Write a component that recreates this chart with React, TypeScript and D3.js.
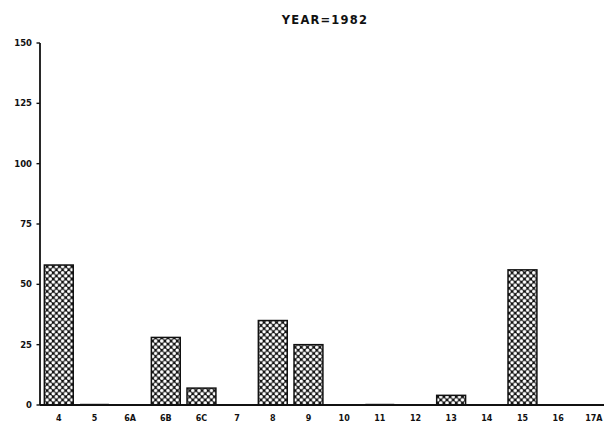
import { useMemo } from "react";
import * as d3 from "d3";

const categories = ["4", "5", "6A", "6B", "6C", "7", "8", "9", "10", "11", "12", "13", "14", "15", "16", "17A"];
const values = [58, 0.5, 0, 28, 7, 0, 35, 25, 0, 0.5, 0, 4, 0, 56, 0, 0];
const yTicks = [0, 25, 50, 75, 100, 125, 150];
const title = "YEAR=1982";

const W = 604;
const H = 428;
const margin = { left: 40, top: 43, bottom: 23 };
const bandStep = 35.6;

export default function App() {
  const x = useMemo(
    () =>
      d3
        .scaleBand()
        .domain(categories)
        .range([margin.left + 1.5, margin.left + 1.5 + bandStep * categories.length])
        .paddingInner(0.19)
        .paddingOuter(0.08),
    [],
  );
  const y = useMemo(() => d3.scaleLinear().domain([0, 150]).range([H - margin.bottom, margin.top]), []);

  const font = "'DejaVu Sans', 'Liberation Sans', sans-serif";

  return (
    <svg
      width={W}
      height={H}
      style={{ position: "absolute", left: 0, top: 0, background: "#fff" }}
      fontFamily={font}
    >
      <defs>
        <pattern id="xhatch" width={6.2} height={6.2} patternUnits="userSpaceOnUse" x={44} y={0}>
          <rect width={6.2} height={6.2} fill="#111" />
          <circle cx={0} cy={0} r={1.8} fill="#fff" />
          <circle cx={6.2} cy={0} r={1.8} fill="#fff" />
          <circle cx={0} cy={6.2} r={1.8} fill="#fff" />
          <circle cx={6.2} cy={6.2} r={1.8} fill="#fff" />
          <circle cx={3.1} cy={3.1} r={1.8} fill="#fff" />
        </pattern>
      </defs>

      <text
        x={325}
        y={24}
        textAnchor="middle"
        fontSize={11.5}
        fontWeight="bold"
        letterSpacing={1.2}
        fill="#111"
      >
        {title}
      </text>

      {/* y axis */}
      <line x1={margin.left} x2={margin.left} y1={y(150)} y2={y(0)} stroke="#111" strokeWidth={1.8} />
      {yTicks.map((t) => (
        <g key={t} transform={`translate(0,${y(t)})`}>
          <line x1={margin.left - 3.5} x2={margin.left} stroke="#111" strokeWidth={1.4} />
          <text x={margin.left - 8} dy="0.35em" textAnchor="end" fontSize={8.5} fontWeight="bold" fill="#111">
            {t}
          </text>
        </g>
      ))}

      {/* bars */}
      {categories.map((c, i) => {
        const v = values[i];
        const bx = x(c) ?? 0;
        const top = y(v);
        const h = y(0) - top;
        if (h <= 0) return null;
        return h < 3 ? (
          <rect key={c} x={bx} y={top} width={x.bandwidth()} height={h} fill="#111" />
        ) : (
          <rect
            key={c}
            x={bx}
            y={top}
            width={x.bandwidth()}
            height={h}
            fill="url(#xhatch)"
            stroke="#111"
            strokeWidth={1.5}
          />
        );
      })}

      {/* x axis */}
      <line x1={margin.left} x2={W} y1={y(0)} y2={y(0)} stroke="#111" strokeWidth={1.8} />
      {categories.map((c) => (
        <text
          key={c}
          x={(x(c) ?? 0) + x.bandwidth() / 2}
          y={y(0) + 16}
          textAnchor="middle"
          fontSize={8}
          fontWeight="bold"
          fill="#111"
        >
          {c}
        </text>
      ))}
    </svg>
  );
}
